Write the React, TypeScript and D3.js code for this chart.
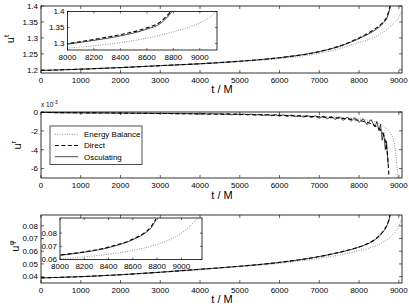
import React from 'react';
import * as d3 from 'd3';

const W = 409;
const H = 308;
const FONT = '"Liberation Sans", Arial, Helvetica, sans-serif';

// time grids (t / M)
const tSmooth = [0, 1000, 2000, 3000, 4000, 5000, 6000, 7000, 7500, 8000, 8200, 8400, 8600, 8700, 8750, 8790];
const tEB = [0, 1000, 2000, 3000, 4000, 5000, 6000, 7000, 7500, 8000, 8200, 8400, 8600, 8800, 9000, 9100, 9150];

// u^t
const utOsc = [1.198, 1.202, 1.207, 1.213, 1.219, 1.227, 1.238, 1.257, 1.273, 1.298, 1.31, 1.324, 1.345, 1.362, 1.38, 1.4];
const utDirect = [1.198, 1.202, 1.207, 1.213, 1.219, 1.227, 1.238, 1.257, 1.274, 1.3, 1.313, 1.328, 1.349, 1.367, 1.386, 1.406];
const utEB = [1.198, 1.202, 1.207, 1.213, 1.218, 1.225, 1.235, 1.252, 1.266, 1.286, 1.293, 1.303, 1.317, 1.337, 1.365, 1.39, 1.41];

// u^r (x 10^-3)
const tEBr = [0, 2000, 4000, 5000, 6000, 7000, 7500, 8000, 8300, 8500, 8700, 8800, 8880, 8920, 8950, 8975];
const urEB = [-0.05, -0.1, -0.17, -0.22, -0.3, -0.45, -0.55, -0.72, -0.95, -1.2, -1.8, -2.3, -3.2, -4.3, -5.5, -7.0];
const tDirr = [0, 2000, 4000, 5000, 6000, 7000, 7500, 8000, 8200, 8400, 8500, 8600, 8650, 8700, 8730, 8750];
const urDirect = [-0.05, -0.12, -0.2, -0.25, -0.36, -0.52, -0.65, -0.9, -1.1, -1.45, -1.75, -2.3, -2.9, -4.0, -5.3, -6.8];
const tOscr = [
  0, 500, 1000, 1500, 2000, 2500, 3000, 3500, 4000, 4100, 4200, 4300, 4400, 4500, 4600, 4700, 4800, 4900,
  5000, 5100, 5200, 5300, 5400, 5500, 5600, 5700, 5800, 5900, 6000, 6100, 6200, 6300, 6400, 6500, 6600,
  6700, 6800, 6900, 7000, 7100, 7200, 7300, 7400, 7500, 7600, 7700, 7800, 7900, 8000, 8100, 8200, 8300,
  8400, 8450, 8500, 8540, 8580, 8620, 8660, 8690, 8730,
];
const urOsc = [
  -0.05, -0.08, -0.1, -0.1, -0.12, -0.14, -0.15, -0.17, -0.2, -0.15, -0.25, -0.17, -0.26, -0.18, -0.27, -0.19, -0.29, -0.2,
  -0.3, -0.21, -0.32, -0.23, -0.34, -0.25, -0.36, -0.26, -0.4, -0.28, -0.44, -0.3, -0.48, -0.32, -0.5, -0.35, -0.55,
  -0.38, -0.6, -0.4, -0.66, -0.44, -0.72, -0.48, -0.8, -0.52, -0.88, -0.56, -0.98, -0.6, -1.1, -0.7, -1.35, -0.8,
  -1.6, -1.0, -2.0, -1.3, -3.0, -2.2, -4.0, -3.1, -5.5,
];

// u^phi
const uphOsc = [0.039, 0.04, 0.0415, 0.0435, 0.0458, 0.0482, 0.0512, 0.0558, 0.059, 0.0632, 0.0655, 0.069, 0.075, 0.08, 0.084, 0.09];
const uphDirect = [0.039, 0.04, 0.0415, 0.0435, 0.0458, 0.0482, 0.0512, 0.0558, 0.0591, 0.0634, 0.0658, 0.0694, 0.0755, 0.0806, 0.0848, 0.0908];
const uphEB = [0.039, 0.04, 0.0414, 0.0433, 0.0455, 0.0478, 0.0505, 0.0545, 0.057, 0.0605, 0.062, 0.064, 0.067, 0.0715, 0.08, 0.088, 0.094];

const mainXTicks = [0, 1000, 2000, 3000, 4000, 5000, 6000, 7000, 8000, 9000];
const insetXTicks = [8000, 8200, 8400, 8600, 8800, 9000];
const utTicks = [1.2, 1.25, 1.3, 1.35, 1.4];
const utInsetTicks = [1.3, 1.35, 1.4];
const urTicks = [0, -2, -4, -6];
const uphTicks = [0.04, 0.05, 0.06, 0.07, 0.08];
const uphInsetTicks = [0.06, 0.07, 0.08];
const legendLabels = ['Energy Balance', 'Direct', 'Osculating'];

type Kind = 'eb' | 'direct' | 'osc';
type Series = { t: number[]; v: number[]; kind: Kind; linear?: boolean };

const styles: Record<Kind, { stroke: string; width: number; dash?: string }> = {
  eb: { stroke: '#555', width: 0.8, dash: '0.8,1.6' },
  direct: { stroke: '#000', width: 1.1, dash: '4,2.4' },
  osc: { stroke: '#000', width: 0.7 },
};

type AxesProps = {
  id: string;
  box: [number, number, number, number];
  xDomain: [number, number];
  yDomain: [number, number];
  xTicks: number[];
  yTicks: number[];
  yFmt: (v: number) => string;
  series: Series[];
  fs: number;
  tick: number;
  white?: boolean;
};

function Axes({ id, box, xDomain, yDomain, xTicks, yTicks, yFmt, series, fs, tick, white }: AxesProps) {
  const [l, t, r, b] = box;
  const x = d3.scaleLinear().domain(xDomain).range([l, r]);
  const y = d3.scaleLinear().domain(yDomain).range([b, t]);
  return (
    <g>
      <defs>
        <clipPath id={id}>
          <rect x={l} y={t} width={r - l} height={b - t} />
        </clipPath>
      </defs>
      {white && <rect x={l} y={t} width={r - l} height={b - t} fill="#fff" />}
      <g clipPath={`url(#${id})`}>
        {series.map((s, i) => {
          const pts = s.t.map((tt, k) => [tt, s.v[k]] as [number, number]);
          const line = d3
            .line<[number, number]>()
            .x((d) => x(d[0]))
            .y((d) => y(d[1]))
            .curve(s.linear ? d3.curveLinear : d3.curveMonotoneX);
          const st = styles[s.kind];
          return (
            <path key={i} d={line(pts) || ''} fill="none" stroke={st.stroke}
              strokeWidth={st.width} strokeDasharray={st.dash} />
          );
        })}
      </g>
      <rect x={l} y={t} width={r - l} height={b - t} fill="none" stroke="#000" strokeWidth={0.8} />
      {xTicks.map((v) => (
        <g key={'x' + v}>
          <line x1={x(v)} x2={x(v)} y1={b} y2={b - tick} stroke="#000" strokeWidth={0.6} />
          <line x1={x(v)} x2={x(v)} y1={t} y2={t + tick} stroke="#000" strokeWidth={0.6} />
          <text x={x(v)} y={b + 4} dy="0.71em" textAnchor="middle" fontSize={fs} fontFamily={FONT}>{v}</text>
        </g>
      ))}
      {yTicks.map((v) => (
        <g key={'y' + v}>
          <line x1={l} x2={l + tick} y1={y(v)} y2={y(v)} stroke="#000" strokeWidth={0.6} />
          <line x1={r} x2={r - tick} y1={y(v)} y2={y(v)} stroke="#000" strokeWidth={0.6} />
          <text x={l - 3} y={y(v)} dy="0.35em" textAnchor="end" fontSize={fs} fontFamily={FONT}>{yFmt(v)}</text>
        </g>
      ))}
    </g>
  );
}

function YLabel({ x, y, sup }: { x: number; y: number; sup: string }) {
  return (
    <text transform={`translate(${x},${y}) rotate(-90)`} textAnchor="middle" fontSize={11} fontFamily={FONT}>
      u<tspan fontSize={8} dy={-5}>{sup}</tspan>
    </text>
  );
}

function XLabel({ y }: { y: number }) {
  return (
    <text x={222} y={y} textAnchor="middle" fontSize={11} fontFamily={FONT}>t / M</text>
  );
}

const f2 = (v: number) => String(v);

export default function App() {
  const L = 41;
  const R = 402;
  const mainX: [number, number] = [0, 9080];
  return (
    <svg width={W} height={H} style={{ position: 'absolute', left: 0, top: 0, background: '#fff' }}>
      {/* panel 1: u^t */}
      <Axes id="c1" box={[L, 6, R, 73]} xDomain={mainX} yDomain={[1.19, 1.4]} xTicks={mainXTicks}
        yTicks={utTicks} yFmt={f2} fs={8} tick={3}
        series={[
          { t: tEB, v: utEB, kind: 'eb' },
          { t: tSmooth, v: utDirect, kind: 'direct' },
          { t: tSmooth, v: utOsc, kind: 'osc' },
        ]} />
      <Axes id="c1i" box={[67.5, 11.5, 217, 50]} xDomain={[8000, 9130]} yDomain={[1.28, 1.4]} xTicks={insetXTicks}
        yTicks={utInsetTicks} yFmt={f2} fs={8} tick={2} white
        series={[
          { t: tEB, v: utEB, kind: 'eb' },
          { t: tSmooth, v: utDirect, kind: 'direct' },
          { t: tSmooth, v: utOsc, kind: 'osc' },
        ]} />
      <YLabel x={14} y={39} sup="t" />
      <XLabel y={93} />

      {/* panel 2: u^r */}
      <Axes id="c2" box={[L, 112, R, 178]} xDomain={mainX} yDomain={[-7, 0]} xTicks={mainXTicks}
        yTicks={urTicks} yFmt={f2} fs={8} tick={3}
        series={[
          { t: tEBr, v: urEB, kind: 'eb' },
          { t: tDirr, v: urDirect, kind: 'direct' },
          { t: tOscr, v: urOsc, kind: 'osc', linear: true },
        ]} />
      <text x={41} y={107} fontSize={6.5} fontFamily={FONT}>
        x 10<tspan fontSize={5} dy={-3}>-3</tspan>
      </text>
      <YLabel x={21} y={145} sup="r" />
      <XLabel y={199} />
      <g>
        <rect x={50} y={126} width={92} height={38.5} fill="#fff" stroke="#000" strokeWidth={0.7} />
        {legendLabels.map((lab, i) => {
          const k: Kind = (['eb', 'direct', 'osc'] as Kind[])[i];
          const st = styles[k];
          const yy = 134.3 + i * 11.2;
          return (
            <g key={lab}>
              <line x1={55} x2={78} y1={yy} y2={yy} stroke={st.stroke} strokeWidth={st.width}
                strokeDasharray={st.dash} />
              <text x={84} y={yy} dy="0.35em" fontSize={8} fontFamily={FONT}>{lab}</text>
            </g>
          );
        })}
      </g>

      {/* panel 3: u^phi */}
      <Axes id="c3" box={[L, 215, R, 283]} xDomain={mainX} yDomain={[0.035, 0.0885]} xTicks={mainXTicks}
        yTicks={uphTicks} yFmt={f2} fs={8} tick={3}
        series={[
          { t: tEB, v: uphEB, kind: 'eb' },
          { t: tSmooth, v: uphDirect, kind: 'direct' },
          { t: tSmooth, v: uphOsc, kind: 'osc' },
        ]} />
      <Axes id="c3i" box={[60, 218, 202, 259.5]} xDomain={[8000, 9170]} yDomain={[0.06, 0.0915]} xTicks={insetXTicks}
        yTicks={uphInsetTicks} yFmt={f2} fs={8} tick={2} white
        series={[
          { t: tEB, v: uphEB, kind: 'eb' },
          { t: tSmooth, v: uphDirect, kind: 'direct' },
          { t: tSmooth, v: uphOsc, kind: 'osc' },
        ]} />
      <YLabel x={19} y={246} sup="φ" />
      <XLabel y={303} />
    </svg>
  );
}
